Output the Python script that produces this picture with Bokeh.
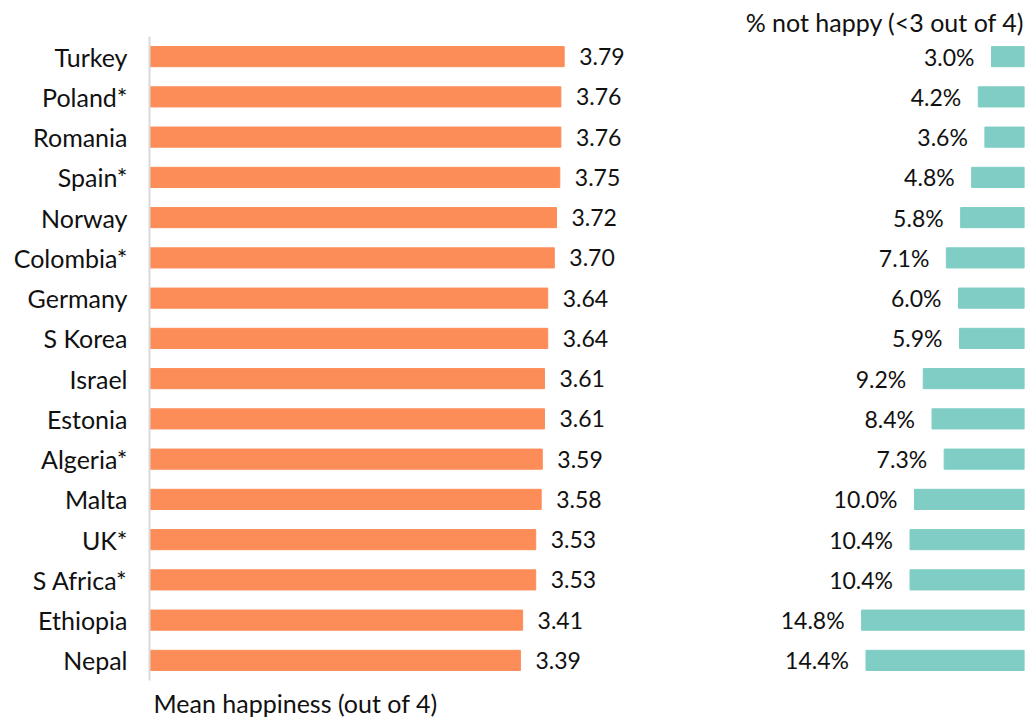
from bokeh.plotting import figure
from bokeh.models import FactorRange, Range1d, ColumnDataSource, Title
from bokeh.layouts import row
from bokeh.embed import file_html
from bokeh.resources import INLINE
from bokeh.core.properties import value

countries = ["Turkey", "Poland*", "Romania", "Spain*", "Norway", "Colombia*", "Germany",
             "S Korea", "Israel", "Estonia", "Algeria*", "Malta", "UK*", "S Africa*",
             "Ethiopia", "Nepal"]
mean_happiness = [3.79, 3.76, 3.76, 3.75, 3.72, 3.70, 3.64, 3.64, 3.61, 3.61, 3.59, 3.58,
                  3.53, 3.53, 3.41, 3.39]
pct_not_happy = [3.0, 4.2, 3.6, 4.8, 5.8, 7.1, 6.0, 5.9, 9.2, 8.4, 7.3, 10.0, 10.4, 10.4,
                 14.8, 14.4]

FONT = "Lato"
FS_NUM = "23px"
FS_LAB = "25px"
ORANGE = "#fc8d59"
TEAL = "#7fcdc4"
TXT = "#111111"

src = ColumnDataSource(dict(
    c=countries, m=mean_happiness, p=pct_not_happy,
    ml=[f"{v:.2f}" for v in mean_happiness],
    pl=[f"{v:.1f}%" for v in pct_not_happy],
))

yr = FactorRange(factors=list(reversed(countries)))

H = 722
left = figure(width=707, height=H, y_range=yr, x_range=Range1d(0, 5.1),
              output_backend="svg", toolbar_location=None,
              min_border_left=149, min_border_right=0, min_border_top=36, min_border_bottom=40)
left.hbar(y="c", left=0, right="m", height=0.5, color=ORANGE, source=src)
left.text(x="m", y="c", text="ml", source=src, x_offset=15, text_align="left",
          text_baseline="middle", text_font=value(FONT), text_font_size=FS_NUM, text_color=TXT)
left.xaxis.visible = False
left.xgrid.visible = False
left.ygrid.visible = False
left.outline_line_color = None
ya = left.yaxis[0]
ya.axis_line_color = "#d9d9d9"
ya.axis_line_width = 2
ya.major_tick_line_color = None
ya.minor_tick_line_color = None
ya.major_tick_out = 0
ya.major_tick_in = 0
ya.major_label_standoff = 22
ya.major_label_text_font = FONT
ya.major_label_text_font_size = FS_LAB
ya.major_label_text_color = TXT
left.add_layout(Title(text="Mean happiness (out of 4)", align="left", offset=4,
                      text_font=FONT, text_font_size=FS_LAB, text_font_style="normal",
                      text_color=TXT), "below")

right = figure(width=321, height=H, y_range=yr, x_range=Range1d(28.8, 0),
               output_backend="svg", toolbar_location=None,
               min_border_left=0, min_border_right=4, min_border_top=36, min_border_bottom=40)
right.hbar(y="c", left=0, right="p", height=0.5, color=TEAL, source=src)
right.text(x="p", y="c", text="pl", source=src, x_offset=-17, text_align="right",
           text_baseline="middle", text_font=value(FONT), text_font_size=FS_NUM, text_color=TXT)
right.xaxis.visible = False
right.yaxis.visible = False
right.xgrid.visible = False
right.ygrid.visible = False
right.outline_line_color = None
right.title.text = "% not happy (<3 out of 4)"
right.title.align = "right"
right.title.text_font = FONT
right.title.text_font_size = FS_LAB
right.title.text_font_style = "normal"
right.title.text_color = TXT
right.title.standoff = 0

layout = row(left, right)
open("out.html", "w").write(file_html(layout, INLINE))
